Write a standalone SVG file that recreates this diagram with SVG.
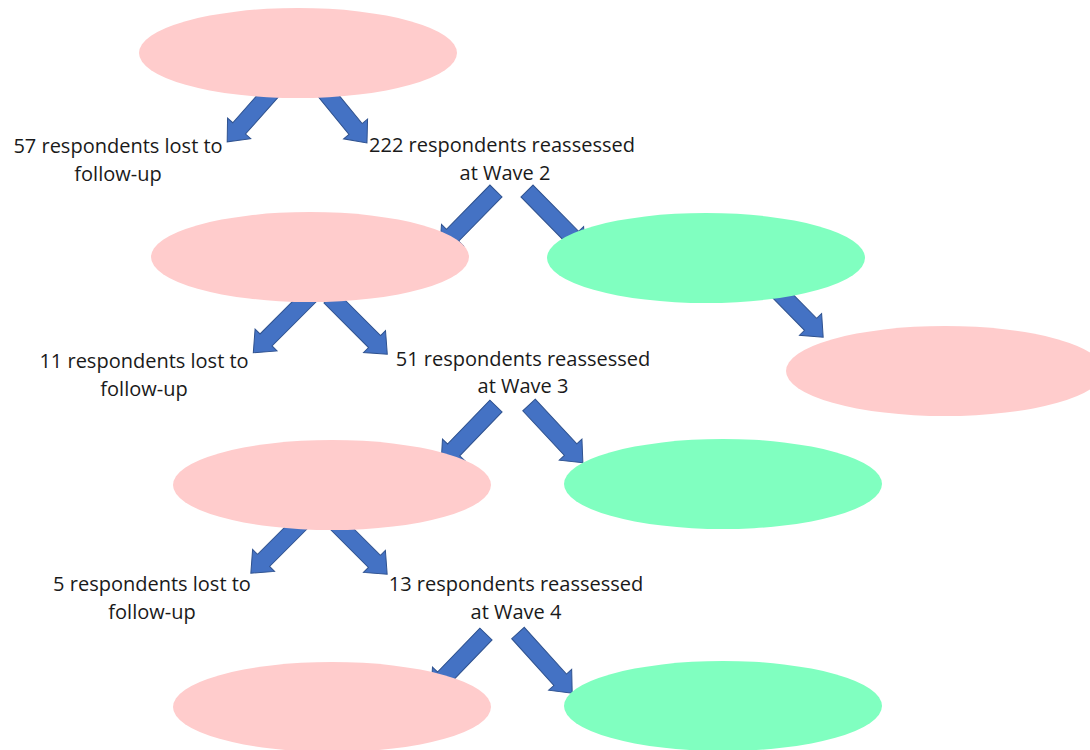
<svg xmlns="http://www.w3.org/2000/svg" width="1090" height="750" viewBox="0 0 1090 750">
<style>
.arr{fill:#4472C4;stroke:#2F528F;stroke-width:1}
.pink{fill:#FFCCCC}
.green{fill:#80FFC0}
text{font-family:"Open Sans","Liberation Sans",Arial,sans-serif;font-size:20px;fill:#1a1a1a;text-anchor:middle}
</style>
<rect width="1090" height="750" fill="#ffffff"/>
<g id="connectors">
<path class="arr" transform="translate(275,88) rotate(131.6)" d="M0,-8.5 L54,-8.5 L54,-15.5 L72,0 L54,15.5 L54,8.5 L0,8.5 Z"/>
<path class="arr" transform="translate(322,88) rotate(50.7)" d="M0,-8.5 L53,-8.5 L53,-15.5 L71,0 L53,15.5 L53,8.5 L0,8.5 Z"/>
<path class="arr" transform="translate(496,191) rotate(134.5)" d="M0,-8.5 L62,-8.5 L62,-15.5 L80,0 L62,15.5 L62,8.5 L0,8.5 Z"/>
<path class="arr" transform="translate(527,191) rotate(45.5)" d="M0,-8.5 L65,-8.5 L65,-15.5 L83,0 L65,15.5 L65,8.5 L0,8.5 Z"/>
<path class="arr" transform="translate(765,278) rotate(45.5)" d="M0,-8.5 L65,-8.5 L65,-15.5 L83,0 L65,15.5 L65,8.5 L0,8.5 Z"/>
<path class="arr" transform="translate(312,294) rotate(135)" d="M0,-8.5 L65,-8.5 L65,-15.5 L83,0 L65,15.5 L65,8.5 L0,8.5 Z"/>
<path class="arr" transform="translate(330,297) rotate(45)" d="M0,-8.5 L63,-8.5 L63,-15.5 L81,0 L63,15.5 L63,8.5 L0,8.5 Z"/>
<path class="arr" transform="translate(496,406) rotate(134)" d="M0,-8.5 L61,-8.5 L61,-15.5 L79,0 L61,15.5 L61,8.5 L0,8.5 Z"/>
<path class="arr" transform="translate(529,405) rotate(47)" d="M0,-8.5 L61,-8.5 L61,-15.5 L79,0 L61,15.5 L61,8.5 L0,8.5 Z"/>
<path class="arr" transform="translate(306,518) rotate(135)" d="M0,-8.5 L60,-8.5 L60,-15.5 L78,0 L60,15.5 L60,8.5 L0,8.5 Z"/>
<path class="arr" transform="translate(332,519) rotate(45)" d="M0,-8.5 L60,-8.5 L60,-15.5 L78,0 L60,15.5 L60,8.5 L0,8.5 Z"/>
<path class="arr" transform="translate(486,634) rotate(134)" d="M0,-8.5 L61,-8.5 L61,-15.5 L79,0 L61,15.5 L61,8.5 L0,8.5 Z"/>
<path class="arr" transform="translate(518,633) rotate(48)" d="M0,-8.5 L63,-8.5 L63,-15.5 L81,0 L63,15.5 L63,8.5 L0,8.5 Z"/>
</g>
<g id="node-wave1"><ellipse class="pink" cx="298" cy="53" rx="159" ry="45"/></g>
<g id="node-wave2-lost"><ellipse class="pink" cx="310" cy="257" rx="159" ry="45"/></g>
<g id="node-wave2-green"><ellipse class="green" cx="706" cy="258" rx="159" ry="45"/></g>
<g id="node-wave2-right"><ellipse class="pink" cx="945" cy="371" rx="159" ry="45"/></g>
<g id="node-wave3-pink"><ellipse class="pink" cx="332" cy="485" rx="159" ry="45"/></g>
<g id="node-wave3-green"><ellipse class="green" cx="723" cy="484" rx="159" ry="45"/></g>
<g id="node-wave4-pink"><ellipse class="pink" cx="332" cy="707" rx="159" ry="45"/></g>
<g id="node-wave4-green"><ellipse class="green" cx="723" cy="706" rx="159" ry="45"/></g>
<g id="label-lost1"><text x="118" y="153">57 respondents lost to</text><text x="118" y="181">follow-up</text></g>
<g id="label-re2"><text x="502" y="152">222 respondents reassessed</text><text x="505" y="180">at Wave 2</text></g>
<g id="label-lost2"><text x="144" y="368">11 respondents lost to</text><text x="144" y="396">follow-up</text></g>
<g id="label-re3"><text x="523" y="366">51 respondents reassessed</text><text x="523" y="393">at Wave 3</text></g>
<g id="label-lost3"><text x="152" y="591">5 respondents lost to</text><text x="152" y="619">follow-up</text></g>
<g id="label-re4"><text x="516" y="591">13 respondents reassessed</text><text x="516" y="619">at Wave 4</text></g>
</svg>
